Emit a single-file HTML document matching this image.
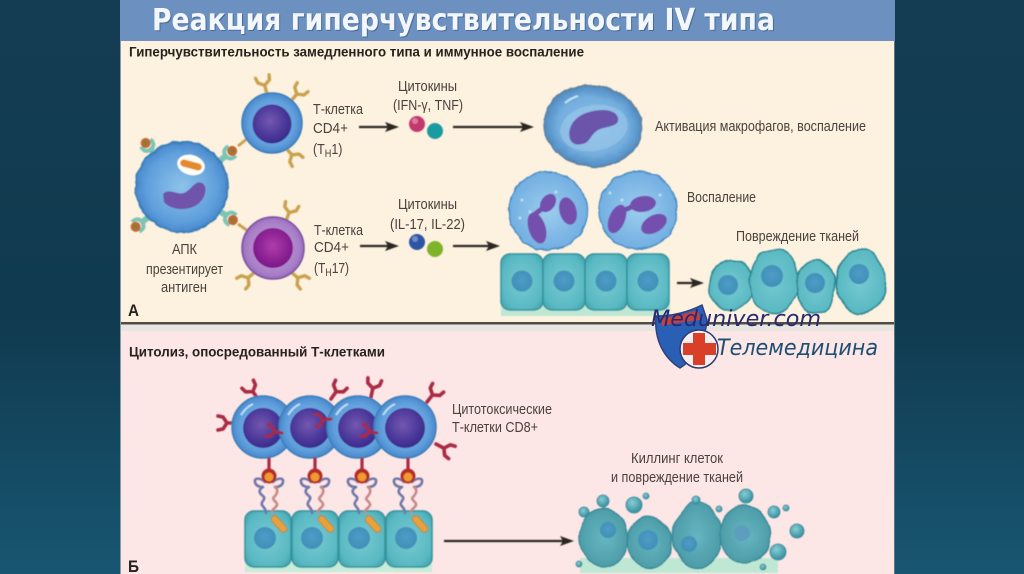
<!DOCTYPE html>
<html><head><meta charset="utf-8"><style>
html,body{margin:0;padding:0;width:1024px;height:574px;overflow:hidden;background:#123c51}
svg{display:block}
text{font-family:"Liberation Sans","DejaVu Sans",sans-serif}
</style></head><body>
<svg width="1024" height="574" viewBox="0 0 1024 574" xmlns="http://www.w3.org/2000/svg">
<defs>
<linearGradient id="bg" x1="0" y1="0" x2="0" y2="1"><stop offset="0" stop-color="#143d53"/><stop offset=".55" stop-color="#103a4f"/><stop offset="1" stop-color="#185671"/></linearGradient>
<radialGradient id="blueC" cx=".5" cy=".5" r=".55"><stop offset="0" stop-color="#8ec3ea"/><stop offset=".7" stop-color="#5f9fdc"/><stop offset="1" stop-color="#417fc6"/></radialGradient>
<radialGradient id="purpC" cx=".5" cy=".5" r=".55"><stop offset="0" stop-color="#d0aee2"/><stop offset=".8" stop-color="#a67cc6"/><stop offset="1" stop-color="#8a5cb0"/></radialGradient>
<radialGradient id="nucB" cx=".45" cy=".42" r=".6"><stop offset="0" stop-color="#7458b0"/><stop offset=".65" stop-color="#4c389a"/><stop offset="1" stop-color="#38298a"/></radialGradient>
<radialGradient id="nucP" cx=".5" cy=".45" r=".55"><stop offset="0" stop-color="#b03cab"/><stop offset="1" stop-color="#7a1688"/></radialGradient>
<radialGradient id="epi" cx=".5" cy=".5" r=".7"><stop offset="0" stop-color="#78cad2"/><stop offset=".72" stop-color="#58b8c2"/><stop offset="1" stop-color="#3a9ca8"/></radialGradient>
<radialGradient id="nucT" cx=".5" cy=".45" r=".55"><stop offset="0" stop-color="#4f9cc8"/><stop offset="1" stop-color="#3f8fb6"/></radialGradient>
<radialGradient id="neut" cx=".5" cy=".5" r=".6"><stop offset="0" stop-color="#9ccdee"/><stop offset=".8" stop-color="#74b0e2"/><stop offset="1" stop-color="#5295d2"/></radialGradient>
<radialGradient id="mac" cx=".5" cy=".5" r=".55"><stop offset="0" stop-color="#8cbfe6"/><stop offset=".65" stop-color="#74aede"/><stop offset="1" stop-color="#4380ba"/></radialGradient>
<radialGradient id="dead" cx=".5" cy=".5" r=".65"><stop offset="0" stop-color="#66b6c0"/><stop offset="1" stop-color="#4595a2"/></radialGradient>
<radialGradient id="ball" cx=".4" cy=".35" r=".6"><stop offset="0" stop-color="#88cdd6"/><stop offset="1" stop-color="#3c94a2"/></radialGradient>
<filter id="wob" x="-15%" y="-15%" width="130%" height="130%"><feTurbulence type="fractalNoise" baseFrequency=".1" numOctaves="2" seed="4"/><feDisplacementMap in="SourceGraphic" scale="4" xChannelSelector="R" yChannelSelector="G"/></filter>
<filter id="wob2" x="-15%" y="-15%" width="130%" height="130%"><feTurbulence type="fractalNoise" baseFrequency=".04" numOctaves="2" seed="9"/><feDisplacementMap in="SourceGraphic" scale="7" xChannelSelector="R" yChannelSelector="G"/></filter>
<filter id="soft" x="-5%" y="-5%" width="110%" height="110%"><feGaussianBlur stdDeviation=".45"/></filter>
<filter id="tsoft" x="-5%" y="-20%" width="110%" height="140%"><feGaussianBlur stdDeviation=".3"/></filter>
<g id="yg" fill="none" stroke="#c9a24e" stroke-width="3.4" stroke-linecap="round" stroke-linejoin="round"><path d="M0 0V-9L-6-13-7-18M0-9L6-13 7-18"/></g>
<g id="yr" fill="none" stroke="#a92a44" stroke-width="3.6" stroke-linecap="round" stroke-linejoin="round"><path d="M0 0V-9L-6-13-7-18M0-9L6-13 7-18"/></g>
<g id="ecell"><rect x="0" y="0" width="42" height="56" rx="9" fill="url(#epi)" stroke="#36929c" stroke-width="1.5"/><circle cx="21" cy="27" r="10.5" fill="url(#nucT)"/></g>
<g id="lcell"><rect x="0" y="0" width="46" height="56" rx="9" fill="url(#epi)" stroke="#36929c" stroke-width="1.5"/><circle cx="20" cy="27" r="11" fill="url(#nucT)"/><rect x="-10" y="-3.5" width="20" height="7" rx="3.5" transform="translate(34 13) rotate(48)" fill="#e8a23c" stroke="#b97a22" stroke-width=".8"/></g>
<g id="cd8"><circle r="31" fill="url(#blueC)" stroke="#3a7fb8" stroke-width="1.5"/><circle r="20" cy="1" fill="url(#nucB)"/><path d="M-22-12Q-17-20-10-23" stroke="#bfe0f6" stroke-width="2" fill="none"/></g>
<g id="mhc" fill="none" stroke-linecap="round" stroke-linejoin="round"><path d="M-4 6C-8 2-15 1-14 6S-8 11-6 11C-11 14-10 17-6 20S-9 26-7 29-3 33-3 37" stroke="#6f78a8" stroke-width="2.6"/><path d="M4 6C8 2 15 1 14 6S8 11 6 11" stroke="#6f78a8" stroke-width="2.6"/><path d="M6 11C10 14 8 18 5 21S9 26 8 29 3 33 3 36" stroke="#c48a86" stroke-width="2.6"/><path d="M0-17V-6" stroke="#a92a44" stroke-width="3.2"/><circle r="7.5" fill="#b52b2a"/><circle cy="1" r="4.5" fill="#ee9a2e"/></g>
<g id="apg" fill="none"><path d="M0 0V-11" stroke="#7ec4b4" stroke-width="6"/><path d="M-6-18Q-7-10 0-10Q7-10 6-18" stroke="#7ec4b4" stroke-width="4"/><circle cy="-18" r="5" fill="#c0692f"/><circle cy="-18" r="2.2" fill="#8a7a3e"/></g>
</defs>
<rect width="1024" height="574" fill="url(#bg)"/>
<rect x="120" y="0" width="775" height="41" fill="#6c90bf"/>
<rect x="120" y="41" width="775" height="281" fill="#fdf1e0"/>
<rect x="120" y="322" width="775" height="2.5" fill="#504d47"/>
<rect x="120" y="324.5" width="775" height="6.5" fill="#e9e6e2"/>
<rect x="120" y="331" width="775" height="243" fill="#fde6e6"/>
<rect x="120" y="41" width="1" height="533" fill="#8a9aa8"/>
<rect x="894" y="41" width="1" height="533" fill="#5d7484"/>

<g filter="url(#soft)">
<!-- APC -->
<use href="#apg" transform="translate(157 157) rotate(-39)"/>
<use href="#apg" transform="translate(150 216) rotate(-127)"/>
<use href="#apg" transform="translate(218 162) rotate(52)"/>
<use href="#apg" transform="translate(218 210) rotate(124)"/>
<path d="M238 146L248 138" stroke="#c9a24e" stroke-width="3"/>
<path d="M238 224L248 231" stroke="#c9a24e" stroke-width="3"/>
<g filter="url(#wob)"><ellipse cx="182" cy="187" rx="46" ry="45" fill="url(#blueC)" stroke="#3a7fb8" stroke-width="2"/></g>
<ellipse cx="191" cy="165" rx="14" ry="10" transform="rotate(15 191 165)" fill="#fffdf5"/>
<rect x="-11" y="-3.5" width="22" height="7" rx="3.5" transform="translate(191 165) rotate(15)" fill="#e58a2c"/>
<path d="M163 194C170 187 178 197 186 192C192 188 196 180 202 183C208 186 206 198 198 204C188 212 170 210 164 202Z" fill="#7053ab"/>
<!-- Th1 -->
<use href="#yg" transform="translate(267 94) rotate(-15)"/>
<use href="#yg" transform="translate(291 101) rotate(40)"/>
<use href="#yg" transform="translate(286 148) rotate(140)"/>
<circle cx="272" cy="123" r="30" fill="url(#blueC)" stroke="#3a7fb8" stroke-width="1.5"/>
<circle cx="272" cy="124" r="19.5" fill="url(#nucB)"/>
<!-- Th17 -->
<use href="#yg" transform="translate(286 221) rotate(20)"/>
<use href="#yg" transform="translate(255 272) rotate(-130)"/>
<use href="#yg" transform="translate(291 272) rotate(130)"/>
<circle cx="273" cy="248" r="31" fill="url(#purpC)" stroke="#7a4fa0" stroke-width="1.5"/>
<circle cx="273" cy="248" r="20" fill="url(#nucP)"/>
<circle cx="417" cy="124" r="8" fill="#c2386c"/><circle cx="415" cy="121" r="3" fill="#e07a9c"/>
<circle cx="435" cy="131" r="8" fill="#1f9aa2"/>
<circle cx="417" cy="242" r="8" fill="#2f54a4"/><circle cx="415" cy="239" r="3" fill="#6d8ac8"/>
<circle cx="435" cy="249" r="8" fill="#7fb42c"/>
<!-- macrophage -->
<g filter="url(#wob)"><ellipse cx="593" cy="126" rx="49" ry="40" transform="rotate(8 593 126)" fill="url(#mac)" stroke="#5f84a4" stroke-width="2"/></g>
<ellipse cx="594" cy="128" rx="34" ry="23" transform="rotate(-10 594 128)" fill="#9cc8ea" opacity=".6"/>
<path d="M571 141C566 131 572 118 586 113C600 108 616 109 618 118C620 127 606 126 598 130C590 135 590 143 582 144C578 145 574 145 571 141Z" fill="#6a54aa"/>
<path d="M565 103Q571 98 578 96" stroke="#c4e3f5" stroke-width="2" fill="none"/>
<!-- neutrophils -->
<g filter="url(#wob)"><circle cx="548" cy="211" r="39" fill="url(#neut)" stroke="#4a8cc4" stroke-width="1.5"/><circle cx="638" cy="210" r="39" fill="url(#neut)" stroke="#4a8cc4" stroke-width="1.5"/></g>
<g fill="#7450ad">
<ellipse cx="548" cy="203" rx="7" ry="10" transform="rotate(35 548 203)"/>
<ellipse cx="568" cy="211" rx="8.5" ry="14" transform="rotate(-15 568 211)"/>
<ellipse cx="537" cy="228" rx="8.5" ry="16" transform="rotate(-18 537 228)"/>
<path d="M530 218L548 204" stroke="#7450ad" stroke-width="5"/>
<ellipse cx="617" cy="219" rx="8" ry="15" transform="rotate(22 617 219)"/>
<ellipse cx="643" cy="204" rx="13" ry="8" transform="rotate(-8 643 204)"/>
<path d="M620 212L636 205" stroke="#7450ad" stroke-width="5"/>
<ellipse cx="654" cy="224" rx="14" ry="8.5" transform="rotate(-30 654 224)"/>
</g>
<g fill="#cfe8f7" opacity=".8"><circle cx="522" cy="200" r="1.5"/><circle cx="530" cy="212" r="1.5"/><circle cx="556" cy="192" r="1.5"/><circle cx="610" cy="193" r="1.5"/><circle cx="622" cy="200" r="1.5"/><circle cx="660" cy="195" r="1.5"/><circle cx="520" cy="218" r="1.5"/></g>
<!-- epithelium A -->
<rect x="501" y="300" width="169" height="16" fill="#bfe8d4"/>
<use href="#ecell" x="501" y="254"/><use href="#ecell" x="543" y="254"/><use href="#ecell" x="585" y="254"/><use href="#ecell" x="627" y="254"/>
<!-- damaged -->
<g filter="url(#wob2)" stroke="#2e8792" stroke-width="1.5" fill="url(#epi)">
<ellipse cx="731" cy="285" rx="22" ry="26"/><ellipse cx="774" cy="281" rx="24" ry="31"/><ellipse cx="816" cy="286" rx="20" ry="26"/><ellipse cx="861" cy="281" rx="24" ry="32"/></g>
<circle cx="728" cy="285" r="10" fill="url(#nucT)"/><circle cx="772" cy="276" r="11" fill="url(#nucT)"/><circle cx="815" cy="283" r="10" fill="url(#nucT)"/><circle cx="859" cy="274" r="10" fill="url(#nucT)"/>
<!-- CD8 -->
<use href="#yr" transform="translate(258 399) rotate(-35)"/>
<use href="#yr" transform="translate(331 399) rotate(35)"/>
<use href="#yr" transform="translate(371 397) rotate(12)"/>
<use href="#yr" transform="translate(427 402) rotate(38)"/>
<use href="#yr" transform="translate(236 423) rotate(-90)"/>
<use href="#yr" transform="translate(436 444) rotate(118)"/>
<use href="#cd8" x="263" y="427"/><use href="#cd8" x="310" y="427"/><use href="#cd8" x="358" y="427"/><use href="#cd8" x="405" y="427"/>
<use href="#yr" transform="translate(282 433) rotate(-80) scale(.85)"/>
<use href="#yr" transform="translate(331 419) rotate(-95) scale(.85)"/>
<use href="#yr" transform="translate(377 433) rotate(-80) scale(.85)"/>
<!-- lower epithelium -->
<rect x="245" y="555" width="187" height="17" fill="#c6ecda"/>
<use href="#lcell" x="245" y="511"/><use href="#lcell" x="292" y="511"/><use href="#lcell" x="339" y="511"/><use href="#lcell" x="386" y="511"/>
<use href="#mhc" x="269" y="476"/><use href="#mhc" x="315" y="476"/><use href="#mhc" x="362" y="476"/><use href="#mhc" x="408" y="476"/>
<!-- dying -->
<rect x="580" y="558" width="198" height="15" fill="#bfe8d4"/>
<g filter="url(#wob2)" stroke="#3a8a98" stroke-width="1.5" fill="url(#dead)">
<ellipse cx="604" cy="538" rx="24" ry="29"/><ellipse cx="650" cy="542" rx="22" ry="25"/><ellipse cx="697" cy="535" rx="24" ry="33"/><ellipse cx="745" cy="535" rx="25" ry="29"/></g>
<circle cx="608" cy="530" r="8" fill="url(#nucT)"/><circle cx="648" cy="540" r="10" fill="url(#nucT)"/><circle cx="689" cy="544" r="8" fill="url(#nucT)"/><circle cx="742" cy="533" r="8" fill="#5d9dbe"/>
<g fill="url(#ball)" stroke="#378897" stroke-width=".8">
<circle cx="603" cy="501" r="6"/><circle cx="584" cy="512" r="5"/><circle cx="634" cy="505" r="8"/><circle cx="646" cy="496" r="3"/><circle cx="696" cy="500" r="4"/><circle cx="719" cy="509" r="3"/><circle cx="746" cy="496" r="7"/><circle cx="774" cy="512" r="6"/><circle cx="786" cy="508" r="3"/><circle cx="797" cy="531" r="7"/><circle cx="778" cy="552" r="8"/><circle cx="579" cy="564" r="3"/><circle cx="763" cy="567" r="3"/></g>
<!-- arrows -->
<g stroke="#2b2620" stroke-width="2.2" fill="#2b2620">
<path d="M359 127H392"/><path d="M385 122L399 127L385 132L388 127Z" stroke="none"/>
<path d="M453 127H527"/><path d="M520 122L534 127L520 132L523 127Z" stroke="none"/>
<path d="M360 246H392"/><path d="M385 241L399 246L385 251L388 246Z" stroke="none"/>
<path d="M453 246H493"/><path d="M486 241L500 246L486 251L489 246Z" stroke="none"/>
<path d="M677 283H697"/><path d="M690 278L704 283L690 288L693 283Z" stroke="none"/>
<path d="M444 541H567"/><path d="M560 536L574 541L560 546L563 541Z" stroke="none"/>
</g>
</g>

<g filter="url(#tsoft)">
<text x="152" y="30" font-size="30" font-weight="700" fill="#25466f" opacity=".5" textLength="623" lengthAdjust="spacingAndGlyphs" style='font-family:"DejaVu Sans",sans-serif' transform="translate(1 1)">Реакция гиперчувствительности IV типа</text>
<text x="152" y="30" font-size="30" font-weight="700" fill="#f3f7fb" textLength="623" lengthAdjust="spacingAndGlyphs" style='font-family:"DejaVu Sans",sans-serif'>Реакция гиперчувствительности IV типа</text>
<g font-weight="700" fill="#26211c" font-size="13.5">
<text x="129" y="56.5" textLength="455" lengthAdjust="spacingAndGlyphs">Гиперчувствительность замедленного типа и иммунное воспаление</text>
<text x="129" y="356.5" textLength="256" lengthAdjust="spacingAndGlyphs">Цитолиз, опосредованный Т-клетками</text>
<text x="128" y="316" font-size="17" textLength="11" lengthAdjust="spacingAndGlyphs">А</text>
<text x="128" y="572" font-size="17" textLength="11" lengthAdjust="spacingAndGlyphs">Б</text>
</g>
<g fill="#4a433c" font-size="15">
<text x="313" y="114" textLength="50" lengthAdjust="spacingAndGlyphs">Т-клетка</text>
<text x="313" y="133" textLength="35" lengthAdjust="spacingAndGlyphs">CD4+</text>
<text transform="translate(313 154) scale(.83 1)">(T<tspan font-size="11" dy="3">H</tspan><tspan dy="-3">1)</tspan></text>
<text x="314" y="235" textLength="49" lengthAdjust="spacingAndGlyphs">Т-клетка</text>
<text x="314" y="252" textLength="35" lengthAdjust="spacingAndGlyphs">CD4+</text>
<text transform="translate(314 273) scale(.8 1)">(T<tspan font-size="11" dy="3">H</tspan><tspan dy="-3">17)</tspan></text>
<text x="398" y="91" textLength="59" lengthAdjust="spacingAndGlyphs">Цитокины</text>
<text x="393" y="110" textLength="70" lengthAdjust="spacingAndGlyphs">(IFN-γ, TNF)</text>
<text x="398" y="209" textLength="59" lengthAdjust="spacingAndGlyphs">Цитокины</text>
<text x="390" y="229" textLength="75" lengthAdjust="spacingAndGlyphs">(IL-17, IL-22)</text>
<text x="172" y="254" textLength="25" lengthAdjust="spacingAndGlyphs">АПК</text>
<text x="146" y="274" textLength="77" lengthAdjust="spacingAndGlyphs">презентирует</text>
<text x="161" y="292" textLength="46" lengthAdjust="spacingAndGlyphs">антиген</text>
<text x="655" y="131" textLength="211" lengthAdjust="spacingAndGlyphs">Активация макрофагов, воспаление</text>
<text x="687" y="202" textLength="69" lengthAdjust="spacingAndGlyphs">Воспаление</text>
<text x="736" y="241" textLength="123" lengthAdjust="spacingAndGlyphs">Повреждение тканей</text>
<text x="452" y="414" textLength="100" lengthAdjust="spacingAndGlyphs">Цитотоксические</text>
<text x="452" y="432" textLength="86" lengthAdjust="spacingAndGlyphs">Т-клетки CD8+</text>
<text x="631" y="463" textLength="92" lengthAdjust="spacingAndGlyphs">Киллинг клеток</text>
<text x="611" y="482" textLength="132" lengthAdjust="spacingAndGlyphs">и повреждение тканей</text>
</g>
</g>

<!-- watermark -->
<g filter="url(#tsoft)">
<path d="M656 316Q680 316 702 305L707 320C705 345 690 362 680 368C664 358 654 340 656 316Z" fill="#2c5fb6" stroke="#33407a" stroke-width="1.5"/>
<path d="M662 318Q680 316 698 310L700 320Q680 322 662 326Z" fill="#c9403c"/>
<circle cx="699" cy="349" r="19" fill="#f6eef0" stroke="#2f3a70" stroke-width="1.5"/>
<path d="M693 333H705V343H716V355H705V365H693V355H683V343H693Z" fill="#d9402c"/>
<text x="651" y="326" font-size="22" font-style="italic" fill="#2a2a70" textLength="170" lengthAdjust="spacingAndGlyphs" style='font-family:"DejaVu Sans",sans-serif'>Meduniver.com</text>
<text x="717" y="355" font-size="22" font-style="italic" fill="#1f4f72" textLength="161" lengthAdjust="spacingAndGlyphs" style='font-family:"DejaVu Sans",sans-serif'>Телемедицина</text>
</g>
</svg>
</body></html>
